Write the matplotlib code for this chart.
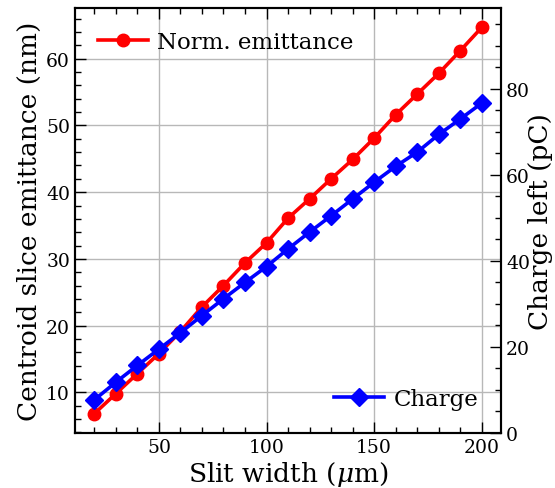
import matplotlib
matplotlib.use("Agg")
import matplotlib.pyplot as plt
from matplotlib.ticker import MultipleLocator

# slit scan results
slit_width = [20, 30, 40, 50, 60, 70, 80, 90, 100, 110, 120, 130, 140, 150, 160, 170, 180, 190, 200]
emittance = [6.8, 9.8, 12.8, 15.8, 19.1, 22.8, 26.0, 29.4, 32.4, 36.1, 39.0, 42.0, 44.9, 48.1, 51.6, 54.7, 57.8, 61.2, 64.7]
charge = [7.7, 11.8, 15.7, 19.5, 23.3, 27.3, 31.2, 35.0, 38.7, 42.8, 46.7, 50.5, 54.4, 58.3, 62.0, 65.3, 69.4, 73.0, 76.7]

plt.rcParams['font.family'] = 'DejaVu Serif'
plt.rcParams['mathtext.fontset'] = 'dejavuserif'

fig = plt.figure(figsize=(5.55, 4.89), dpi=100)
ax = fig.add_axes([0.135, 0.1125, 0.768, 0.869])

ax.plot(slit_width, emittance, color='red', marker='o', lw=2.6, ms=9,
        label='Norm. emittance')
ax.set_xlabel(r'Slit width ($\mu$m)', fontsize=19, labelpad=2)
ax.set_ylabel('Centroid slice emittance (nm)', fontsize=19, labelpad=3)
ax.grid(True, color='#b8b8b8', lw=1)
ax.xaxis.set_minor_locator(MultipleLocator(10))
ax.yaxis.set_minor_locator(MultipleLocator(2))
ax.tick_params(which='both', direction='in', top=True, labelsize=13.5)
ax.tick_params(which='major', length=8, width=1)
ax.tick_params(which='minor', length=4.5, width=1)
ax.legend(loc='upper left', frameon=False, fontsize=16.5, numpoints=1,
          handlelength=2.2, handletextpad=0.4, borderaxespad=0.6)

ax2 = ax.twinx()
ax2.plot(slit_width, charge, color='blue', marker='D', lw=2.6, ms=9,
         label='Charge')
ax2.set_ylim(0, 98.8)
ax2.set_ylabel('Charge left (pC)', fontsize=19)
ax2.yaxis.set_label_coords(1.063, 0.5)
ax2.yaxis.set_minor_locator(MultipleLocator(5))
ax2.tick_params(which='both', direction='in', labelsize=13.5)
ax2.tick_params(which='major', length=8, width=1)
ax2.tick_params(which='minor', length=4.5, width=1)
ax2.legend(loc='lower right', frameon=False, fontsize=16.5, numpoints=1,
           handlelength=2.2, handletextpad=0.4, borderaxespad=0.6)

for a in (ax, ax2):
    for s in a.spines.values():
        s.set_linewidth(1.5)

fig.savefig('out.png', dpi=100)
